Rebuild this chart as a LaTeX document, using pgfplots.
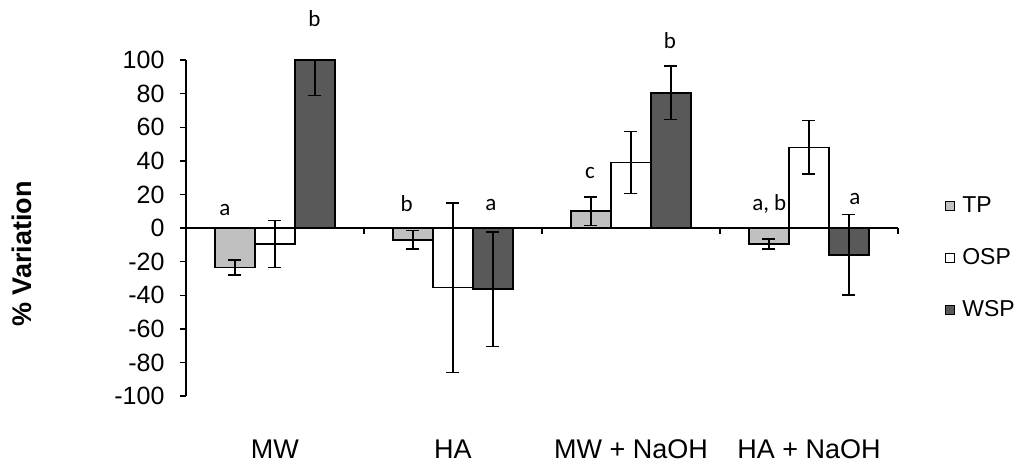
\documentclass[border=0pt]{standalone}
\usepackage{fontspec}
\setmainfont{Liberation Sans}
\newfontfamily\calfont{Carlito}
\usepackage{pgfplots}
\usepackage{pgfplotstable}
\pgfplotsset{compat=1.18}

\definecolor{tpgray}{RGB}{192,192,192}
\definecolor{wspgray}{RGB}{89,89,89}

% x  TP  err  OSP  err  WSP  err+  err-
\pgfplotstableread{
x  tp     tpe  osp    ospe  wsp    wspp  wspm
0  -23.5  4.5  -9.5   14.0  100.0  0     21
1  -7.0   5.5  -35.5  50.5  -36.5  34    34
2  10.0   8.5  39.0   18.5  80.5   16    16
3  -9.5   3.0  48.0   16.0  -16.0  24    24
}\datatable

\newcommand{\sig}{\calfont\fontsize{23}{26}\selectfont}

\begin{document}
\begin{tikzpicture}
\begin{axis}[
  scale only axis,
  width=712pt, height=336pt,
  xmin=-0.5, xmax=3.5, ymin=-100, ymax=100,
  ybar=0pt, bar width=40pt,
  clip=false,
  axis y line*=left, axis x line*=bottom,
  x axis line style={draw=none},
  y axis line style={line width=1.4pt},
  xtick={0,1,2,3},
  xticklabels={MW, HA, MW + NaOH, HA + NaOH},
  xtick style={draw=none},
  xticklabel style={font=\fontsize{27}{30}\selectfont, anchor=base, yshift=-56pt},
  ytick={-100,-80,...,100},
  /pgf/number format/assume math mode=true,
  tick align=outside, major tick length=6pt,
  ytick style={line width=1.4pt, black},
  yticklabel style={font=\fontsize{25}{28}\selectfont, xshift=-12pt},
  every axis y label/.style={at={(rel axis cs:-0.2303,0.4226)}, rotate=90, anchor=center,
    font=\bfseries\fontsize{27}{30}\selectfont},
  ylabel={\% Variation},
  legend style={at={(rel axis cs:1.062,0.605)}, anchor=north west, draw=none,
    font=\fontsize{23}{26}\selectfont, row sep=30.5pt, legend cell align=left,
    /tikz/every odd column/.append style={column sep=5pt}},
  legend image code/.code={\draw[#1,draw=black,line width=1pt] (0pt,-4.5pt) rectangle (9pt,4.5pt);},
  error bars/error bar style={line width=1.5pt, black},
  error bars/error mark options={rotate=90, mark size=6.5pt, line width=1.5pt, black},
]
\addplot[fill=tpgray, draw=black, line width=1.7pt,
  error bars/.cd, y dir=both, y explicit]
  table[x=x, y=tp, y error=tpe]{\datatable};
\addlegendentry{TP}
\addplot[fill=white, draw=black, line width=1.7pt,
  error bars/.cd, y dir=both, y explicit]
  table[x=x, y=osp, y error=ospe]{\datatable};
\addlegendentry{OSP}
\addplot[fill=wspgray, draw=black, line width=1.7pt,
  error bars/.cd, y dir=both, y explicit]
  table[x=x, y=wsp, y error plus=wspp, y error minus=wspm]{\datatable};
\addlegendentry{WSP}

% zero line with category separators
\draw[line width=1.4pt] (axis cs:-0.5,0) -- (axis cs:3.5,0);
\pgfplotsinvokeforeach{0.5,1.5,2.5,3.5}{
  \draw[line width=1.4pt] (axis cs:#1,0) -- ++(0pt,-6pt);
}

% significance letters
\node[font=\sig, anchor=base] at (axis cs:-0.281,7.7) {a};
\node[font=\sig, anchor=base] at (axis cs:0.221,119.8) {b};
\node[font=\sig, anchor=base] at (axis cs:0.740,9.7) {b};
\node[font=\sig, anchor=base] at (axis cs:1.213,10.7) {a};
\node[font=\sig, anchor=base] at (axis cs:1.770,29.6) {c};
\node[font=\sig, anchor=base] at (axis cs:2.219,107) {b};
\node[font=\sig, anchor=base] at (axis cs:2.777,10.7) {a, b};
\node[font=\sig, anchor=base] at (axis cs:3.258,13.7) {a};

\path (rel axis cs:-0.2612,-0.2292) rectangle (rel axis cs:1.1784,1.1786);
\end{axis}
\end{tikzpicture}
\end{document}
